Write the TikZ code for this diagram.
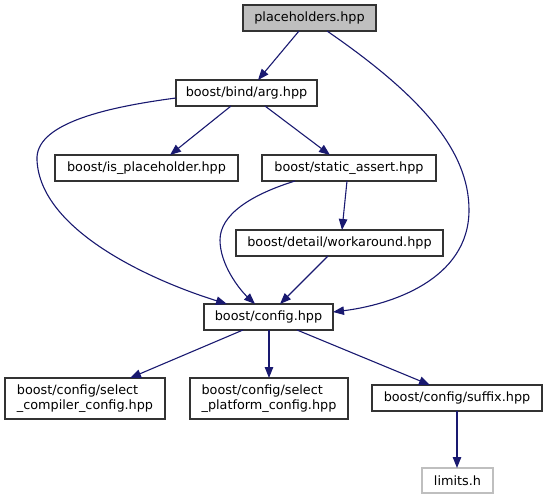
\documentclass[tikz,border=0pt]{standalone}
\usepackage{fontspec}
\setmainfont{DejaVu Sans}
\usetikzlibrary{arrows.meta}
\definecolor{edgec}{HTML}{191970}
\definecolor{boxc}{HTML}{333333}
\definecolor{phfill}{HTML}{BFBFBF}
\definecolor{limc}{HTML}{BFBFBF}
\tikzset{
  filebox/.style={draw=boxc, line width=1.2pt, fill=white, inner sep=0pt, outer sep=0pt,
    font=\fontsize{12.8}{15.5}\selectfont, minimum height=26pt, anchor=center},
  dep/.style={draw=edgec, line width=1.1pt, -{Triangle[length=11pt,width=8.5pt]}},
}
\begin{document}
\begin{tikzpicture}[x=1pt,y=-1pt]
\useasboundingbox (0,0) rectangle (547,500);
\node[filebox, fill=phfill, minimum width=133pt] (ph) at (309.5,18) {placeholders.hpp};
\node[filebox, minimum width=141pt] (arg) at (246.5,93) {boost/bind/arg.hpp};
\node[filebox, minimum width=183pt] (isph) at (146.5,168) {boost/is\_placeholder.hpp};
\node[filebox, minimum width=174pt] (sa) at (349,168) {boost/static\_assert.hpp};
\node[filebox, minimum width=207pt] (wa) at (339.5,243) {boost/detail/workaround.hpp};
\node[filebox, minimum width=129pt] (cfg) at (268.5,317) {boost/config.hpp};
\node[filebox, minimum width=160pt, minimum height=41pt, align=left] (comp) at (85,398.5) {boost/config/select\\\_compiler\_config.hpp};
\node[filebox, minimum width=158pt, minimum height=41pt, align=left] (plat) at (269,398.5) {boost/config/select\\\_platform\_config.hpp};
\node[filebox, minimum width=170pt] (suf) at (457,398) {boost/config/suffix.hpp};
\node[filebox, draw=limc, minimum width=71pt, minimum height=25pt] (lim) at (457.5,480.5) {limits.h};

\draw[dep] ([xshift=-10.5pt]ph.south) -- ([xshift=11.5pt]arg.north);
\draw[dep] ([xshift=17.5pt]ph.south) .. controls (420,95) and (469,150) .. (469,210)
  .. controls (469,280) and (390,305) .. ([yshift=5pt]cfg.east);
\draw[dep] ([xshift=-15.5pt]arg.south) -- ([xshift=23.5pt]isph.north);
\draw[dep] ([xshift=18.5pt]arg.south) -- ([xshift=-19pt]sa.north);
\draw[dep] ([yshift=-5pt]arg.west) .. controls (100,108) and (35,125) .. (37,160)
  .. controls (40,230) and (150,280) .. ([xshift=-41.5pt]cfg.north);
\draw[dep] ([xshift=-54pt]sa.south) .. controls (250,195) and (220,215) .. (220,240)
  .. controls (220,265) and (240,290) .. ([xshift=-13.5pt]cfg.north);
\draw[dep] ([xshift=-2pt]sa.south) -- ([xshift=2.5pt]wa.north);
\draw[dep] ([xshift=-11.5pt]wa.south) -- ([xshift=11.5pt]cfg.north);
\draw[dep] ([xshift=-25.5pt]cfg.south) -- ([xshift=45pt]comp.north);
\draw[dep] ([xshift=0.5pt]cfg.south) -- (plat.north);
\draw[dep] ([xshift=28.5pt]cfg.south) -- ([xshift=-27pt]suf.north);
\draw[dep] (suf.south) -- (suf.south |- lim.north);
\end{tikzpicture}
\end{document}
